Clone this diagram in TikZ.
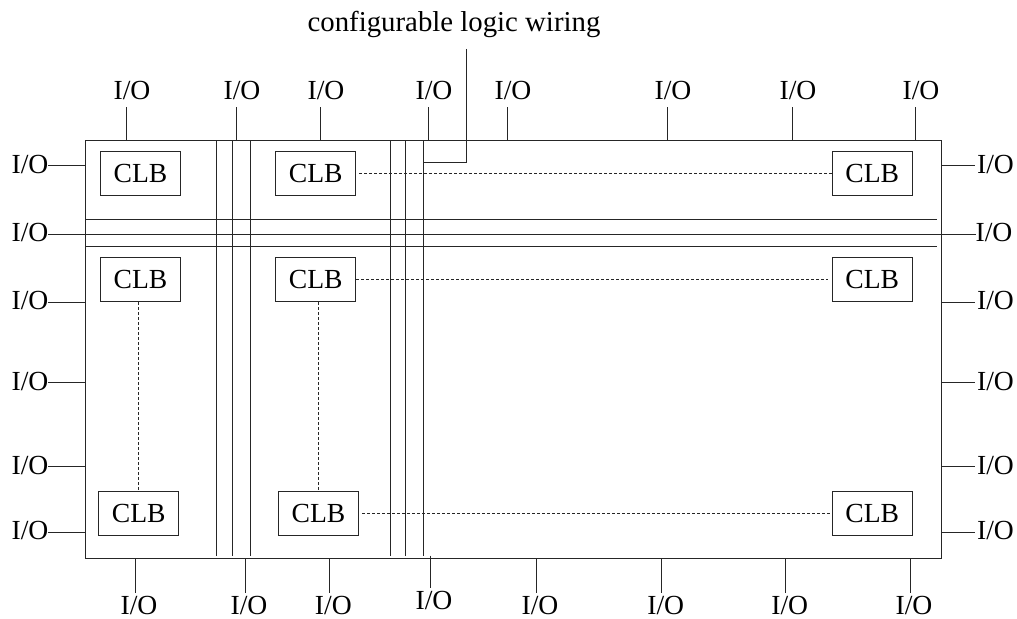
\documentclass[tikz,border=0pt]{standalone}
\usepackage{fontspec}
\setmainfont{Liberation Serif}
\begin{document}
\begin{tikzpicture}[x=0.5pt, y=-0.5pt, line width=0.5pt, draw=black!85,
  font=\fontsize{13.8}{16}\selectfont,
  io/.style={inner sep=0pt, anchor=base},
  clb/.style={draw=black!85, inner sep=0pt, minimum width=40pt, minimum height=22.2pt},
  link/.style={dash pattern=on 1.5pt off 1pt},
  track/.style={draw},
]
\useasboundingbox (0,0) rectangle (1017,619);

% chip outline
\node[draw=black!85, inner sep=0pt, outer sep=0pt, minimum width=428pt, minimum height=209pt] (chip) at (513,350) {};

% horizontal routing channel
\draw[track] (85,219.7) -- (936.7,219.7);
\draw[track] (85,246.7) -- (936.7,246.7);
\coordinate (hl) at (48,234.3);
\coordinate (hr) at (976,234.3);
\draw[track] (hl) -- (hr);
\node[io] (iol-mid) at (30,241.8) {I/O};
\node[io] (ior-mid) at (994,241.8) {I/O};

% vertical routing channels
\foreach \x in {216,232,250,390,405,423}
  \draw[track] (\x,141) -- (\x,555.7);

% top pins
\foreach \x [count=\i] in {126,236,320,428,507,667,792,915} {
  \coordinate (pt\i) at (\x,107);
  \draw (\x,141) -- (pt\i);
  \node[io] (iot\i) at (\x+6,100) {I/O};
}

% side pins
\foreach \y [count=\i] in {165.7,302.3,382.7,466.7,532.3} {
  \coordinate (pl\i) at (48,\y);
  \coordinate (pr\i) at (975,\y);
  \draw (pl\i) -- (85,\y);
  \draw (941,\y) -- (pr\i);
  \node[io] (iol\i) at (30,\y+7.5) {I/O};
  \node[io] (ior\i) at (995.5,\y+7.5) {I/O};
}

% bottom pins
\foreach \x [count=\i] in {135,245,329.3,536,661.7,785.7,910} {
  \coordinate (pb\i) at (\x,593.3);
  \draw (\x,559) -- (pb\i);
  \node[io] (iob\i) at (\x+4,614) {I/O};
}
\coordinate (pbx) at (430,588);
\draw (430,555.7) -- (pbx);
\node[io] (iobx) at (434,609.5) {I/O};

% logic blocks
\node[clb] (b11) at (140.5,173.8) {CLB};
\node[clb] (b12) at (315.8,173.8) {CLB};
\node[clb] (b13) at (872.2,173.8) {CLB};
\node[clb] (b21) at (140.5,279.8) {CLB};
\node[clb] (b22) at (315.8,279.8) {CLB};
\node[clb] (b23) at (872.2,279.8) {CLB};
\node[clb] (b31) at (138.7,513.3) {CLB};
\node[clb] (b32) at (318.5,513.3) {CLB};
\node[clb] (b33) at (872.2,513.3) {CLB};

% elided blocks in between
\draw[link] ([xshift=1.5pt]b12.east) -- (b13.west);
\draw[link] (b22.east) -- ([xshift=-2pt]b23.west);
\draw[link] ([xshift=1.5pt]b32.east) -- (b33.west);
\draw[link] (b31.north |- b21.south) -- (b31.north);
\draw[link] (b32.north |- b22.south) -- (b32.north);

% annotation
\node[io, font=\fontsize{14.4}{16}\selectfont] (wiring) at (454,31.7) {configurable logic wiring};
\coordinate (wk) at (466,162.3);
\draw (466,49) -- (wk) -- (423,162.3);
\end{tikzpicture}
\end{document}
